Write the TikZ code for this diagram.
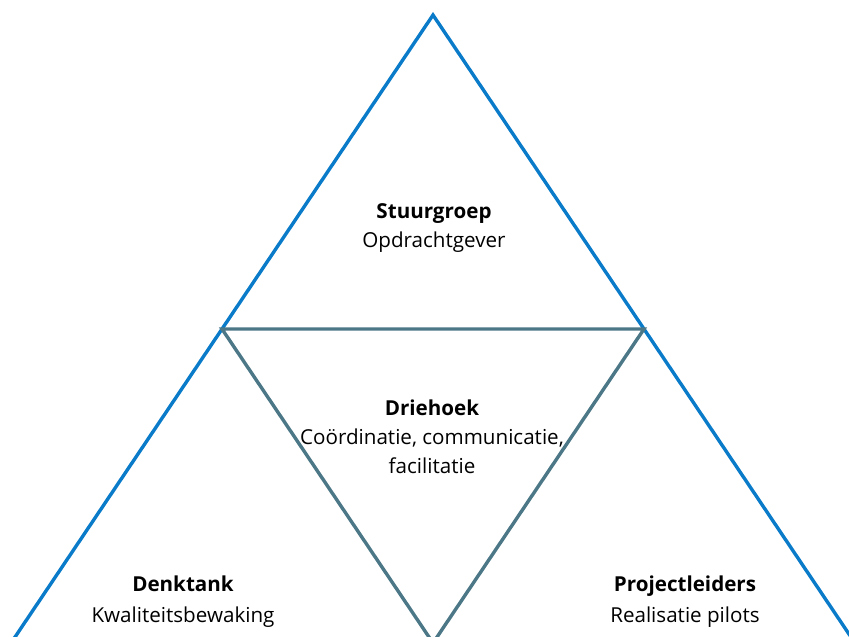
\documentclass[tikz,border=0pt]{standalone}
\usepackage{fontspec}
\setmainfont{Open Sans}
\definecolor{outerblue}{HTML}{0A7BC9}
\definecolor{innerteal}{HTML}{4C7787}
\begin{document}
\begin{tikzpicture}[x=1pt,y=-1pt,
  outerline/.style={draw=outerblue,line width=3.4pt,line join=miter},
  innerline/.style={draw=innerteal,line width=3.4pt,line join=miter},
  lbl/.style={align=center,font=\fontsize{20.6}{29}\selectfont,inner sep=0pt},
  lblb/.style={align=center,font=\fontsize{20.6}{31}\selectfont,inner sep=0pt}]
\useasboundingbox (0,0) rectangle (849,637);
\coordinate (apex) at (433,15);
\coordinate (bl) at (11,643);
\coordinate (br) at (855,643);
\coordinate (ml) at (222,329);
\coordinate (mr) at (644,329);
\coordinate (mb) at (433,643);
\draw[outerline] (bl) -- (apex) -- (br);
\draw[innerline] (ml) -- (mr) -- (mb) -- cycle;
\node[lbl] (stuur) at (434,228) {\textbf{Stuurgroep}\\Opdrachtgever};
\node[lbl] (drie) at (432,437) {\textbf{Driehoek}\\Coördinatie, communicatie,\\facilitatie};
\node[lblb] (denk) at (183,602) {\textbf{Denktank}\\Kwaliteitsbewaking};
\node[lblb] (proj) at (685,602) {\textbf{Projectleiders}\\Realisatie pilots};
\end{tikzpicture}
\end{document}
